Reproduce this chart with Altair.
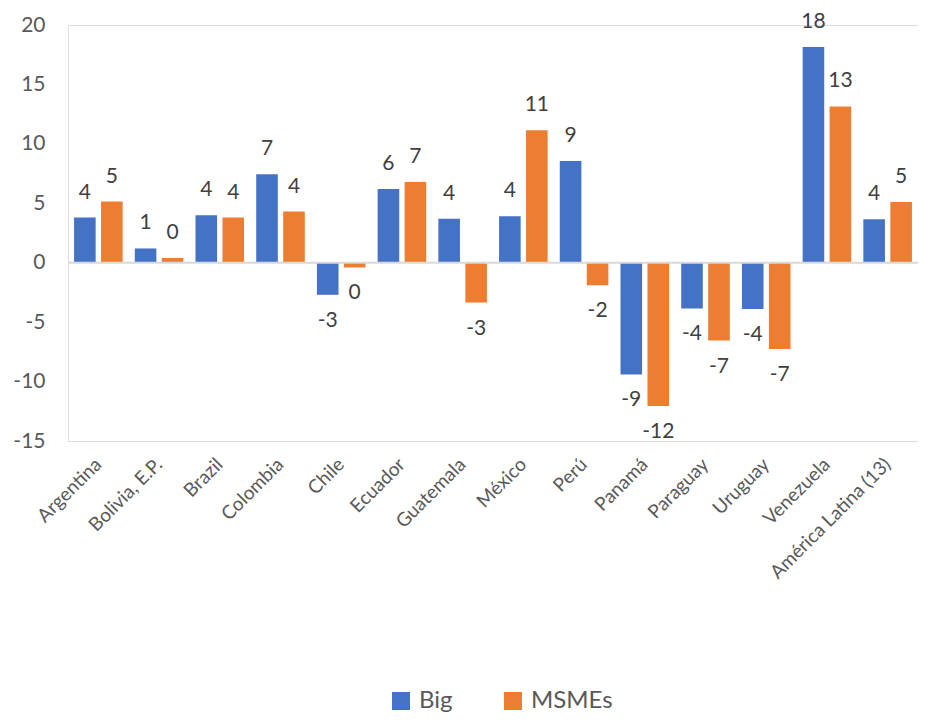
import altair as alt
import pandas as pd

countries = ["Argentina", "Bolivia, E.P.", "Brazil", "Colombia", "Chile", "Ecuador",
             "Guatemala", "México", "Perú", "Panamá", "Paraguay", "Uruguay",
             "Venezuela", "América Latina (13)"]
big = [3.8, 1.2, 4.0, 7.45, -2.7, 6.2, 3.7, 3.9, 8.55, -9.4, -3.85, -3.9, 18.15, 3.65]
msmes = [5.15, 0.4, 3.8, 4.3, -0.4, 6.8, -3.35, 11.15, -1.9, -12.05, -6.55, -7.25, 13.15, 5.1]
series = ["Big", "MSMEs"]
colors = ["#4472C4", "#ED7D31"]
y_ticks = [-15, -10, -5, 0, 5, 10, 15, 20]


def lab(v):
    s = f"{v:.0f}"
    return "0" if s == "-0" else s


rows = []
for c, b, m in zip(countries, big, msmes):
    rows.append({"country": c, "series": "Big", "value": b, "label": lab(b)})
    rows.append({"country": c, "series": "MSMEs", "value": m, "label": lab(m)})
df = pd.DataFrame(rows)

FONT = "Lato"

x_enc = alt.X("country:N", sort=countries, title=None,
              scale=alt.Scale(paddingInner=0.2, paddingOuter=0.1),
              axis=alt.Axis(labelAngle=-45, labelFontSize=19, labelColor="#595959",
                            labelFont=FONT, domain=False, ticks=False, tickSize=0,
                            labelPadding=20, labelAlign="right", labelBaseline="middle",
                            labelLimit=300))
xo_enc = alt.XOffset("series:N", sort=series, scale=alt.Scale(paddingInner=0.2, paddingOuter=0))
y_enc = alt.Y("value:Q", title=None,
              scale=alt.Scale(domain=[-15, 20], nice=False, zero=True),
              axis=alt.Axis(values=y_ticks, grid=False, domain=False, ticks=False, tickSize=0,
                            labelFontSize=21, labelColor="#595959", labelFont=FONT,
                            labelPadding=23,
                            labelExpr="replace(datum.label, '\u2212', '-')"))

base = alt.Chart(df)

bars = base.mark_bar().encode(
    x=x_enc,
    xOffset=xo_enc,
    y=y_enc,
    color=alt.Color("series:N", sort=series,
                    scale=alt.Scale(domain=series, range=colors),
                    legend=alt.Legend(title=None, orient="none", direction="horizontal",
                                      legendX=321, legendY=664, padding=0,
                                      symbolType="square", symbolSize=324,
                                      symbolStrokeWidth=0, labelFontSize=24,
                                      labelFont=FONT, labelColor="#595959",
                                      labelOffset=6, columnPadding=48)),
)

pos_labels = base.transform_filter("datum.value >= 0").mark_text(
    baseline="middle", dy=-25, fontSize=21, font=FONT, color="#404040"
).encode(x=alt.X("country:N", sort=countries), xOffset=alt.XOffset("series:N", sort=series),
         y="value:Q", text="label:N")

neg_labels = base.transform_filter("datum.value < 0").mark_text(
    baseline="middle", dy=26, fontSize=21, font=FONT, color="#404040"
).encode(x=alt.X("country:N", sort=countries), xOffset=alt.XOffset("series:N", sort=series),
         y="value:Q", text="label:N")

zero = alt.Chart(pd.DataFrame({"z": [0]})).mark_rule(color="#D9D9D9", strokeWidth=2).encode(
    y=alt.Y("z:Q"))

chart = alt.layer(bars, zero, pos_labels, neg_labels).properties(
    width=850, height=416,
    autosize=alt.AutoSizeParams(type="none"),
    padding={"left": 60, "top": 17, "right": 0, "bottom": 275},
).configure_view(stroke=None).configure(font=FONT)

chart.save("out.html", embed_options={"renderer": "svg", "actions": False})
